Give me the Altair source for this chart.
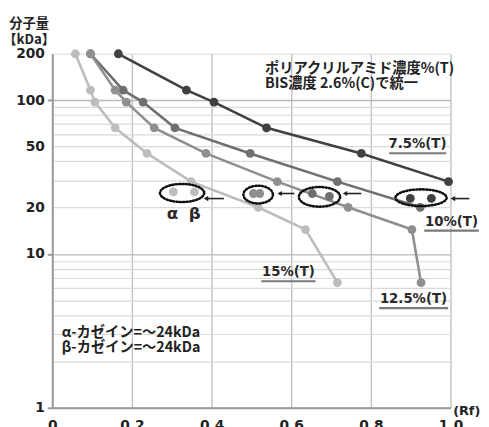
import math
import altair as alt
import pandas as pd

# ---------------- data ----------------
series_names = ["7.5%", "10%", "12.5%", "15%"]
series_colors = ["#404040", "#6f6f6f", "#8f8f8f", "#bdbdbd"]

rf_75 = [0.166, 0.337, 0.406, 0.538, 0.776, 0.995]
kda_75 = [200, 116, 97, 66, 45, 29.5]
rf_10 = [0.096, 0.178, 0.228, 0.308, 0.497, 0.716, 0.924]
kda_10 = [200, 116, 97, 66, 45, 29.5, 20.1]
rf_125 = [0.096, 0.158, 0.186, 0.256, 0.386, 0.565, 0.743, 0.903, 0.926]
kda_125 = [200, 116, 97, 66, 45, 29.5, 20.1, 14.4, 6.5]
rf_15 = [0.058, 0.096, 0.107, 0.158, 0.238, 0.349, 0.517, 0.636, 0.716]
kda_15 = [200, 116, 97, 66, 45, 29.5, 20.1, 14.4, 6.5]

# casein bands (alpha, beta) for each gel
cas_series = ["15%", "15%", "12.5%", "12.5%", "10%", "10%", "7.5%", "7.5%"]
cas_rf = [0.304, 0.357, 0.505, 0.521, 0.653, 0.696, 0.899, 0.952]
cas_kda = [25.3, 25.3, 24.7, 24.7, 24.7, 23.7, 23.0, 23.0]

# dotted ellipses around the casein bands
ell_id = ["e1", "e2", "e3", "e4"]
ell_rf = [0.326, 0.517, 0.671, 0.926]
ell_kda = [24.9, 24.3, 23.5, 23.2]

# arrows pointing at the ellipses
arr_rf = [0.386, 0.571, 0.735, 1.006]
arr_rf2 = [0.431, 0.608, 0.776, 1.047]
arr_kda = [22.9, 24.7, 24.7, 22.9]

# series labels
lab_text = ["7.5%(T)", "10%(T)", "12.5%(T)", "15%(T)"]
lab_rf = [0.917, 1.0025, 0.907, 0.593]
lab_kda = [51.5, 16.2, 5.07, 7.59]
lab_rf1 = [0.846, 0.934, 0.821, 0.525]
lab_rf2 = [0.989, 1.071, 0.994, 0.661]

x_ticks = [0, 0.2, 0.4, 0.6, 0.8, 1.0]
y_grid = [1, 2, 3, 4, 5, 6, 7, 8, 9, 10, 20, 30, 40, 50, 60, 70, 80, 90, 100, 200]
y_labels = [1, 10, 20, 50, 100, 200]
y_major = [1, 10, 100]

# ---------------- styles ----------------
ell_w = [45, 30, 42, 52]
ell_h = [18.4, 18, 20, 17]


def ellipse_path(ratio, n=48):
    pts = []
    for j in range(n):
        t = 2 * math.pi * j / n
        pts.append(f"{math.cos(t):.4f},{ratio * math.sin(t):.4f}")
    return "M" + " L".join(pts) + " Z"


ell_paths = [ellipse_path(h / w) for w, h in zip(ell_w, ell_h)]

LATIN = "DejaVu Sans"
CJK = "Noto Sans CJK JP"

# ---------------- frames ----------------
rows = []
for name, rfs, kdas in zip(series_names, [rf_75, rf_10, rf_125, rf_15],
                           [kda_75, kda_10, kda_125, kda_15]):
    for i, (r, k) in enumerate(zip(rfs, kdas)):
        rows.append({"series": name, "rf": r, "kda": k, "i": i})
df = pd.DataFrame(rows)

df_cas = pd.DataFrame({"series": cas_series, "rf": cas_rf, "kda": cas_kda})
df_ell = pd.DataFrame({"eid": ell_id, "rf": ell_rf, "kda": ell_kda,
                       "sz": [w * w for w in ell_w]})
df_arr = pd.DataFrame({"rf": arr_rf, "rf2": arr_rf2, "kda": arr_kda})
df_lab = pd.DataFrame({"t": lab_text, "rf": lab_rf, "kda": lab_kda,
                       "rf1": lab_rf1, "rf2": lab_rf2})

label_test = "indexof([" + ",".join(str(v) for v in y_labels) + "], datum.value) >= 0"
major_test = "indexof([" + ",".join(str(v) for v in y_major) + "], datum.value) >= 0"

xscale = alt.Scale(domain=[0, 1], nice=False, zero=False)

X = alt.X(
    "rf:Q",
    scale=xscale,
    axis=alt.Axis(
        values=x_ticks,
        grid=True, gridColor="#c4c4c4", gridWidth=1.5,
        domainColor="#9a9a9a", domainWidth=2,
        ticks=False,
        labelFont=LATIN, labelFontWeight="bold", labelFontSize=14, labelColor="#222",
        labelPadding=11, labelFlush=False, labelOverlap=False,
        labelExpr="datum.value == 0 ? '0' : format(datum.value, '.1f')",
        title="(Rf)", titleFont=LATIN, titleFontWeight="bold", titleFontSize=13,
        titleColor="#222", titleX=421, titleY=3, titleAlign="center",
        titleBaseline="middle", titleAngle=0,
    ),
)

Y = alt.Y(
    "kda:Q",
    scale=alt.Scale(type="log", domain=[1, 200], nice=False),
    axis=alt.Axis(
        values=y_grid,
        grid=True,
        gridColor={"condition": {"test": major_test, "value": "#b9b9b9"}, "value": "#d9d9d9"},
        gridWidth={"condition": {"test": major_test, "value": 1.5}, "value": 1.2},
        domainColor="#9a9a9a", domainWidth=2,
        tickColor="#9a9a9a", tickWidth=2, tickSize=5,
        tickOpacity={"condition": {"test": major_test, "value": 1}, "value": 0},
        labelFont=LATIN, labelFontWeight="bold", labelFontSize=14, labelColor="#222",
        labelPadding=3, labelOverlap=False, labelFlush=False,
        labelExpr=label_test + " ? datum.value : ''",
        title=["分子量", "【kDa】"], titleFont=CJK, titleFontWeight="bold",
        titleFontSize=13.5, titleColor="#222", titleLineHeight=17,
        titleAngle=0, titleX=-24, titleY=-31, titleAlign="center",
        titleBaseline="middle",
    ),
)

color = alt.Color("series:N", scale=alt.Scale(domain=series_names, range=series_colors),
                  legend=None)

lines = alt.Chart(df).mark_line(strokeWidth=2.6).encode(
    x=X, y=Y, color=color, order="i:Q", detail="series:N")
points = alt.Chart(df).mark_circle(size=80, opacity=1).encode(x=X, y=Y, color=color)
cas_points = alt.Chart(df_cas).mark_circle(size=80, opacity=1).encode(x=X, y=Y, color=color)

ellipses = alt.Chart(df_ell).mark_point(
    filled=False, stroke="#111", strokeWidth=2.6, strokeDash=[1.2, 2.2],
    strokeCap="round", opacity=1,
).encode(
    x=X, y=Y,
    shape=alt.Shape("eid:N", scale=alt.Scale(domain=ell_id, range=ell_paths), legend=None),
    size=alt.Size("sz:Q", scale=None),
)

arrow_shaft = alt.Chart(df_arr).mark_rule(color="#222", strokeWidth=1.6).encode(
    x=X, x2="rf2:Q", y=Y)
arrow_head = alt.Chart(df_arr).mark_point(
    shape="triangle-left", filled=True, color="#222", size=28, opacity=1
).encode(x=X, y=Y)

lab_text_layer = alt.Chart(df_lab).mark_text(
    font=LATIN, fontWeight="bold", fontSize=13.5, color="#2a2a2a",
    align="center", baseline="middle",
).encode(x=X, y=Y, text="t:N")
lab_under = alt.Chart(df_lab).mark_rule(color="#7a7a7a", strokeWidth=2.2, yOffset=9).encode(
    x=alt.X("rf1:Q", scale=xscale), x2="rf2:Q", y=Y)

# free text notes
note_df = pd.DataFrame({
    "t": ["ポリアクリルアミド濃度%(T)", "BIS濃度 2.6%(C)で統一",
          "α-カゼイン=～24kDa", "β-カゼイン=～24kDa"],
    "rf": [0.534, 0.534, 0.024, 0.024],
    "kda": [159, 127.5, 3.06, 2.43],
})
notes = alt.Chart(note_df).mark_text(
    font=CJK, fontWeight="bold", fontSize=14.5, color="#222",
    align="left", baseline="middle",
).encode(x=X, y=Y, text="t:N")

greek_df = pd.DataFrame({"t": ["α", "β"], "rf": [0.302, 0.358], "kda": [18.2, 18.2]})
greek = alt.Chart(greek_df).mark_text(
    font=LATIN, fontWeight="bold", fontSize=17, color="#2a2a2a",
    align="center", baseline="middle",
).encode(x=X, y=Y, text="t:N")

chart = alt.layer(
    lines, points, cas_points, ellipses, arrow_shaft, arrow_head,
    lab_under, lab_text_layer, notes, greek,
).properties(
    width=405, height=360,
    autosize=alt.AutoSizeParams(type="none"),
    padding={"left": 45, "top": 43, "right": 31, "bottom": 16},
    background="white",
).configure_view(stroke=None)

chart.save("out.html", embed_options={"renderer": "svg", "actions": False})
